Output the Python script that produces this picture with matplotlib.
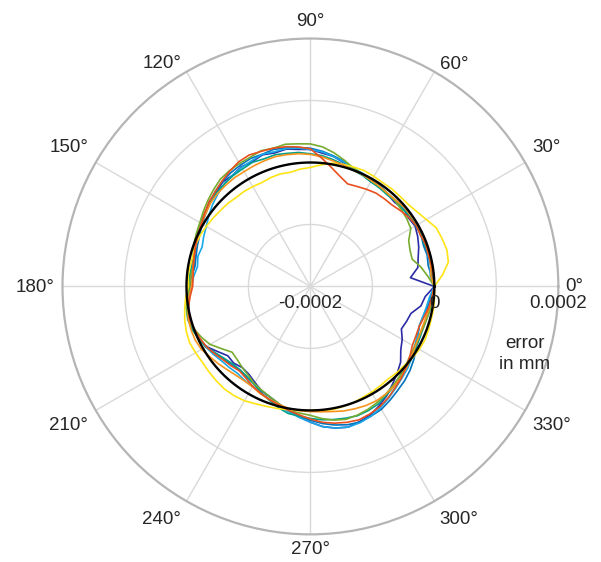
import numpy as np
import matplotlib
matplotlib.use("Agg")
import matplotlib.pyplot as plt

plt.rcParams["font.family"] = ["Liberation Sans", "DejaVu Sans"]

# sample angles in degrees (every 5 deg)
angle_deg = [0, 5, 10, 15, 20, 25, 30, 35, 40, 45, 50, 55,
             60, 65, 70, 75, 80, 85, 90, 95, 100, 105, 110, 115,
             120, 125, 130, 135, 140, 145, 150, 155, 160, 165, 170, 175,
             180, 185, 190, 195, 200, 205, 210, 215, 220, 225, 230, 235,
             240, 245, 250, 255, 260, 265, 270, 275, 280, 285, 290, 295,
             300, 305, 310, 315, 320, 325, 330, 335, 340, 345, 350, 355]

# roundness error per run, in 1e-6 mm
err_navy = [0, -38, -24, -20, -14, -9, -5, -7, -4, -8, -6, -3,
            -5, -1, 2, 7, 13, 16, 21, 22, 25, 23, 26, 22,
            23, 19, 20, 15, 13, 7, 3, -1, -3, -7, -9, -6,
            -8, -3, 0, 3, 2, -2, -6, -17, -26, -25, -29, -27,
            -21, -14, -10, -3, 3, 11, 19, 27, 32, 35, 32, 29,
            22, 15, 6, -2, -10, -22, -29, -38, -35, -32, -19, -14]
err_blue = [0, -4, -7, -5, -6, -3, -2, -4, -3, -6, -7, -4,
            -3, 0, 3, 9, 14, 19, 23, 25, 27, 29, 27, 28,
            26, 24, 21, 17, 11, 6, 2, -3, -6, -9, -11, -8,
            -6, -2, 0, 2, 1, -1, -6, -12, -18, -21, -23, -21,
            -19, -14, -10, -4, 3, 9, 16, 22, 27, 31, 33, 31,
            29, 24, 19, 15, 10, 4, -3, -9, -13, -12, -8, -5]
err_cyan = [0, -6, -3, -4, -2, -4, -2, -1, -3, -4, -5, -3,
            -2, 1, 3, 8, 13, 18, 21, 24, 26, 25, 27, 24,
            22, 19, 16, 11, 6, 0, -6, -10, -14, -12, -15, -11,
            -8, -3, 0, 2, 0, -2, -5, -9, -13, -15, -17, -15,
            -14, -10, -6, -1, 5, 12, 19, 27, 32, 35, 34, 31,
            26, 20, 14, 9, 5, 0, -6, -10, -13, -12, -10, -7]
err_teal = [0, -2, -3, -2, -4, -3, -4, -3, -6, -5, -7, -6,
            -5, -2, 0, 4, 8, 12, 14, 17, 18, 20, 19, 21,
            19, 18, 16, 14, 11, 8, 5, 1, -2, -4, -6, -4,
            -5, 0, 3, 5, 3, -1, -5, -13, -19, -23, -24, -22,
            -18, -11, -5, 2, 8, 10, 13, 16, 18, 20, 22, 21,
            19, 14, 10, 6, 2, 0, -3, -5, -6, -5, -3, -2]
err_green = [0, -10, -19, -30, -29, -25, -13, -10, -8, -6, -5, -4,
             -3, 0, 3, 11, 19, 26, 30, 31, 33, 31, 33, 30,
             29, 28, 26, 21, 16, 11, 6, 3, 0, -5, -8, -6,
             -5, 0, 3, 4, 0, -6, -13, -25, -35, -33, -29, -25,
             -19, -15, -10, -4, 3, 5, 8, 14, 19, 22, 21, 19,
             16, 12, 8, 4, 0, -4, -6, -7, -6, -5, -3, -2]
err_yellow = [0, 14, 26, 28, 26, 24, 16, 10, 6, 5, 5, 4,
              5, 6, 5, 4, 2, -3, -8, -10, -13, -12, -13, -15,
              -14, -13, -13, -11, -10, -8, -6, -4, -3, -4, -3, -2,
              -3, 2, 6, 10, 13, 15, 14, 13, 14, 15, 16, 15,
              13, 9, 6, 4, 2, 1, 0, 1, 2, 1, 0, -2,
              -3, -4, -5, -3, -2, 1, 3, 4, 3, 2, 2, 1]
err_orange = [0, -5, -3, -1, -2, 0, 0, -2, -2, -4, -5, -4,
              -3, -1, 0, 3, 6, 10, 13, 15, 16, 17, 16, 15,
              14, 14, 13, 12, 10, 6, 3, 0, -3, -6, -8, -9,
              -8, -3, 0, 4, 5, 5, 3, -2, -6, -10, -13, -14,
              -13, -9, -6, -3, 0, 1, 2, 3, 5, 8, 10, 12,
              13, 12, 10, 7, 3, -1, -5, -7, -8, -7, -5, -3]
err_red = [0, -1, -2, -3, -2, -4, -3, -6, -10, -14, -15, -16,
           -19, -22, -24, -16, -5, 8, 22, 26, 29, 31, 32, 34,
           32, 27, 22, 17, 13, 8, 3, 0, -3, -6, -8, -10,
           -10, -5, 0, 2, 0, -3, -6, -11, -16, -19, -22, -19,
           -14, -10, -6, -2, 3, 8, 14, 20, 24, 27, 29, 27,
           24, 19, 13, 8, 2, -4, -10, -12, -13, -10, -6, -3]

runs = [
    (err_navy, "#2b2ba6"),
    (err_blue, "#0072bd"),
    (err_cyan, "#18a8e8"),
    (err_teal, "#00a08a"),
    (err_green, "#77ac30"),
    (err_yellow, "#ffe414"),
    (err_orange, "#f7941d"),
    (err_red, "#e8501e"),
]

tick_deg = [0, 30, 60, 90, 120, 150, 180, 210, 240, 270, 300, 330]
r_labels = [(-0.0002, "-0.0002"), (0.0, "0"), (0.0002, "0.0002")]
r_grid = [-0.0001, 0.0, 0.0001]
r_min, r_max = -0.0002, 0.0002

# label centre offset from the grid line end, in pixels (x right, y down)
lab_off = {0: (15.5, 0.5), 30: (21, -14.5), 60: (20, -7), 90: (0, -17),
           120: (-24, -8), 150: (-27, -14.5), 180: (-27.5, 1), 210: (-27, 15.5),
           240: (-25, 18), 270: (0, 15), 300: (24.5, 18), 330: (27, 15.5)}

txt_col = "#262626"
fs = 13.5
px = 72 / 100  # points per pixel

fig = plt.figure(figsize=(6.01, 5.62), dpi=100)
ax = fig.add_axes([0.104, 0.049, 0.825, 0.8826], projection="polar")

th = np.deg2rad(angle_deg + [360])
for err, col in runs:
    r = np.array(err + [err[0]]) * 1e-6
    ax.plot(th, r, color=col, lw=1.2, zorder=3)

# nominal circle at zero error
th_full = np.linspace(0, 2 * np.pi, 361)
ax.plot(th_full, np.zeros_like(th_full), color="black", lw=1.7, zorder=4)

ax.set_ylim(r_min, r_max)
ax.set_yticks(r_grid)
ax.set_yticklabels([])
ax.set_xticks(np.deg2rad(tick_deg))
ax.set_xticklabels([])
ax.tick_params(length=0)
ax.grid(True, color="#d9d9d9", lw=1.0)
ax.spines["polar"].set_color("#b5b5b5")
ax.spines["polar"].set_linewidth(1.6)

for d in tick_deg:
    dx, dy = lab_off[d]
    ax.annotate(f"{d}°", xy=(np.deg2rad(d), r_max), xytext=(dx * px, -dy * px),
                textcoords="offset points", ha="center", va="center",
                fontsize=fs, color=txt_col, annotation_clip=False)

for rv, lab in r_labels:
    ax.annotate(lab, xy=(0, rv), xytext=(0, -6.5), textcoords="offset points",
                ha="center", va="top", fontsize=fs, color=txt_col,
                annotation_clip=False, zorder=5)

fig.text(525 / 601, 1 - 354 / 562, "error\nin mm", ha="center", va="center",
         fontsize=fs, color=txt_col, linespacing=1.3)

fig.savefig("out.png", dpi=100)
